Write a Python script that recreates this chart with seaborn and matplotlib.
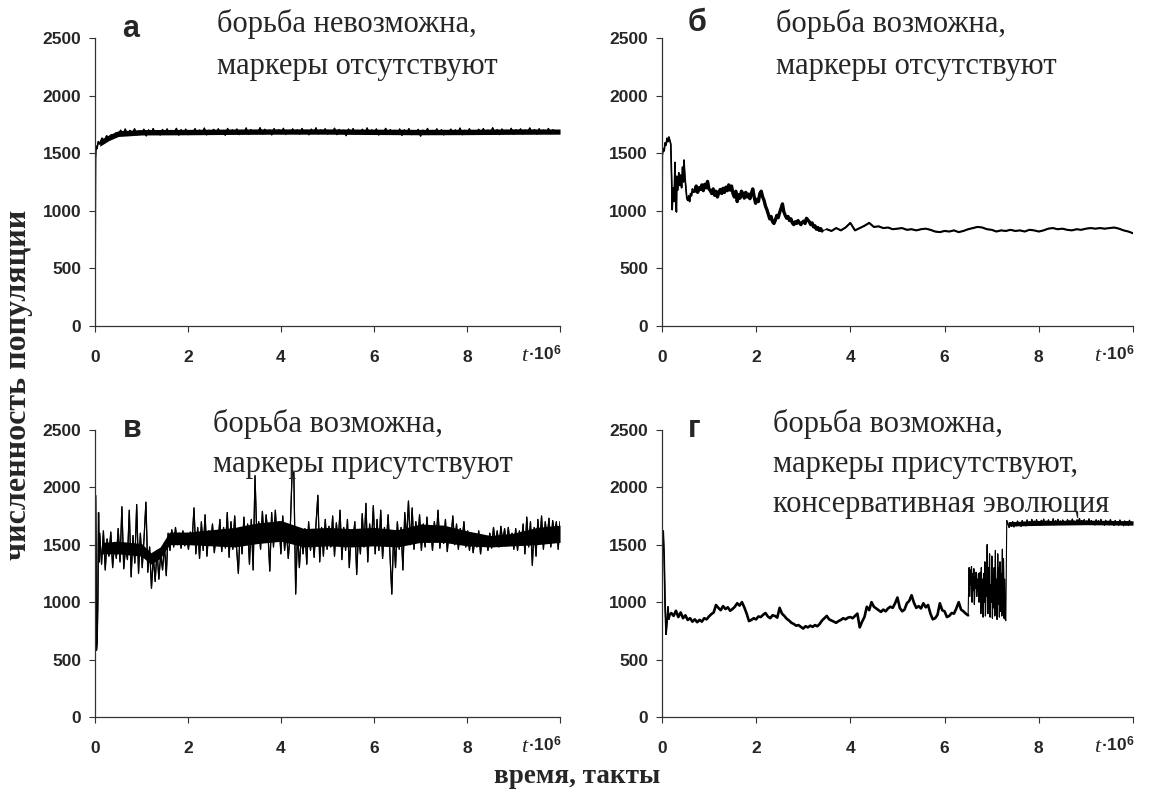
import numpy as np
import pandas as pd
import matplotlib.pyplot as plt
import seaborn as sns

# %% данные (численность популяции, прочитано с графиков)
# а: борьба невозможна, маркеры отсутствуют
a_start_t = [0, 0.01, 0.02, 0.04, 0.07, 0.1, 0.15, 0.2, 0.25, 0.3, 0.35, 0.4, 0.45]
a_start_y = [300, 1450, 1560, 1540, 1600, 1580, 1630, 1610, 1650, 1630, 1660, 1645, 1675]
a_band_range = (0.5, 10.0)
a_band_y = [
    1662, 1700, 1668, 1710, 1655, 1698, 1672, 1712, 1660, 1694, 1676, 1708, 1650, 1703, 1666, 1714, 1670, 1690, 1658, 1706,
    1674, 1711, 1663, 1697, 1680, 1716, 1657, 1704, 1669, 1709, 1661, 1695, 1677, 1713, 1664, 1701, 1671, 1718, 1659, 1699,
    1682, 1707, 1665, 1712, 1673, 1696, 1656, 1715, 1667, 1702, 1679, 1710, 1661, 1698, 1675, 1719, 1663, 1705, 1670, 1693,
    1684, 1721, 1666, 1708, 1672, 1700, 1659, 1713, 1677, 1704, 1668, 1716, 1662, 1697, 1681, 1711, 1670, 1703, 1664, 1715,
    1676, 1699, 1660, 1709, 1673, 1720, 1667, 1701, 1683, 1712, 1665, 1696, 1674, 1717, 1661, 1706, 1678, 1700, 1652, 1710,
    1671, 1714, 1666, 1698, 1680, 1708, 1663, 1719, 1675, 1702, 1669, 1711, 1658, 1697, 1677, 1716, 1664, 1705, 1672, 1699,
    1667, 1710, 1655, 1703, 1673, 1713, 1661, 1694, 1676, 1707, 1648, 1700, 1670, 1715, 1662, 1698, 1679, 1711, 1665, 1704,
    1659, 1696, 1673, 1709, 1664, 1702, 1677, 1718, 1660, 1699, 1671, 1712, 1666, 1697, 1680, 1708, 1663, 1714, 1674, 1701,
    1668, 1721, 1676, 1705, 1661, 1710, 1682, 1698, 1669, 1716, 1664, 1703, 1678, 1711, 1667, 1700, 1685, 1719, 1671, 1706,
    1665, 1712, 1680, 1701, 1673, 1715, 1669, 1704, 1677, 1696, 1684,
]
# плотная часть полосы шума (нижняя и верхняя границы)
a_core_t = [0.1, 0.3, 0.5, 1, 2, 3, 4, 5, 6, 7, 8, 9, 10]
a_core_lo = [1560, 1610, 1645, 1658, 1660, 1663, 1665, 1665, 1662, 1660, 1661, 1664, 1665]
a_core_hi = [1610, 1660, 1695, 1705, 1707, 1710, 1711, 1711, 1709, 1707, 1708, 1711, 1710]

# б: борьба возможна, маркеры отсутствуют
b_start_t = [0, 0.01, 0.03, 0.05, 0.07, 0.09, 0.11, 0.13, 0.15, 0.17, 0.19, 0.21, 0.22, 0.24, 0.26, 0.28, 0.29,
             0.31, 0.32, 0.34, 0.36, 0.38, 0.40, 0.42, 0.44, 0.46, 0.47, 0.49, 0.51, 0.53, 0.55, 0.57, 0.59, 0.61,
             0.63, 0.65, 0.67]
b_start_y = [290, 1480, 1540, 1520, 1590, 1570, 1630, 1600, 1640, 1610, 1580, 1250, 1010, 1200, 1080, 1420, 1150,
             990, 1300, 1180, 1330, 1220, 1310, 1200, 1380, 1250, 1440, 1300, 1200, 1110, 1090, 1130, 1080, 1150,
             1130, 1190, 1160]
b_mid_range = (0.7, 3.4)
b_mid_y = [
    1170, 1215, 1160, 1200, 1185, 1225, 1175, 1230, 1200, 1255,
    1190, 1175, 1150, 1190, 1135, 1170, 1120, 1160, 1185, 1150,
    1195, 1160, 1205, 1175, 1225, 1180, 1215, 1150, 1120, 1170,
    1080, 1140, 1110, 1170, 1150, 1110, 1160, 1120, 1145, 1105,
    1150, 1190, 1120, 1065, 1100, 1080, 1150, 1170, 1120, 1090,
    1040, 1010, 970, 930, 950, 905, 890, 920, 960, 940,
    985, 1020, 1060, 990, 960, 935, 950, 915, 930, 895,
    880, 905, 890, 915, 895, 880, 900, 910, 890, 935,
    920, 905, 880, 895, 860, 870, 840, 855, 830, 845,
    825,
]
b_end_range = (3.5, 10.0)
b_end_y = [
    840, 825, 850, 830, 855, 895, 830, 850, 870, 895, 860, 865, 850, 855, 840, 845, 850, 835, 840, 830,
    840, 845, 835, 820, 815, 825, 820, 830, 815, 825, 840, 850, 860, 855, 840, 835, 820, 830, 825, 835,
    825, 830, 820, 835, 830, 820, 830, 845, 850, 840, 845, 835, 830, 840, 835, 845, 850, 845, 850, 845,
    850, 855, 845, 830, 820, 805,
]

# в: борьба возможна, маркеры присутствуют
c_start_t = [0, 0.01, 0.02, 0.03, 0.045, 0.06, 0.075, 0.09]
c_start_y = [300, 1930, 1500, 580, 650, 1000, 1780, 1350]
c_band_range = (0.1, 10.0)
c_band_y = [
    1600, 1330, 1620, 1280, 1550, 1400, 1610, 1300, 1520, 1380, 1640, 1350, 1830, 1290, 1480, 1370, 1800, 1220, 1580, 1340, 1850, 1250, 1600, 1300, 1560,
    1870, 1260, 1480, 1120, 1400, 1180, 1450, 1200, 1420, 1280, 1500, 1230, 1600, 1450, 1630, 1480, 1650, 1500, 1600, 1470, 1620, 1490, 1580, 1460, 1610,
    1540, 1820, 1420, 1650, 1380, 1700, 1450, 1760, 1400, 1620, 1500, 1680, 1430, 1600, 1520, 1720, 1440, 1650, 1470, 1780, 1390, 1700, 1460, 1750, 1480,
    1250, 1650, 1420, 1740, 1500, 1680, 1330, 1720, 1280, 2100, 1560, 1700, 1460, 1790, 1520, 1760, 1600, 1270, 1780, 1480, 1800, 1530, 1700, 1420, 1750,
    1450, 1620, 1380, 1600, 2100, 2130, 1070, 1620, 1300, 1580, 1420, 1640, 1330, 1700, 1450, 1600, 1390, 1680, 1930, 1350, 1650, 1400, 1720, 1460, 1660,
    1480, 1750, 1400, 1690, 1520, 1800, 1370, 1650, 1450, 1720, 1300, 1600, 1540, 1700, 1240, 1620, 1420, 1770, 1480, 1860, 1350, 1680, 1500, 1840, 1420,
    1720, 1450, 1800, 1380, 1650, 1500, 1760, 1420, 1070, 1600, 1300, 1700, 1460, 1650, 1280, 1780, 1550, 1880, 1500, 1820, 1460, 1700, 1520, 1760, 1450,
    1680, 1480, 1740, 1520, 1660, 1450, 1700, 1550, 1800, 1470, 1650, 1510, 1720, 1440, 1620, 1560, 1750, 1500, 1680, 1460, 1640, 1530, 1700, 1480, 1620,
    1450, 1600, 1430, 1560, 1480, 1620, 1420, 1580, 1500, 1560, 1450, 1600, 1470, 1650, 1500, 1620, 1480, 1660, 1520, 1640, 1490, 1650, 1510, 1600, 1460,
    1640, 1450, 1620, 1500, 1680, 1420, 1740, 1480, 1700, 1320, 1650, 1400, 1720, 1520, 1750, 1460, 1700, 1550, 1730, 1480, 1710, 1600, 1700, 1460, 1700,
]
c_core_t = [0.15, 0.5, 1.0, 1.2, 1.4, 1.6, 2.0, 2.5, 3.0, 3.5, 4.0, 4.5, 5.0, 5.5, 6.0, 6.5, 7.0, 7.5, 8.0, 8.5, 9.0, 9.5, 10.0]
c_core_lo = [1420, 1420, 1400, 1330, 1380, 1500, 1500, 1490, 1480, 1510, 1530, 1480, 1490, 1480, 1490, 1480, 1520, 1520, 1490, 1480, 1490, 1500, 1520]
c_core_hi = [1520, 1530, 1510, 1430, 1480, 1610, 1610, 1630, 1650, 1690, 1710, 1640, 1650, 1640, 1650, 1630, 1680, 1670, 1620, 1580, 1600, 1650, 1670]

# г: борьба возможна, маркеры присутствуют, консервативная эволюция
d_start_t = [0, 0.01, 0.03, 0.05, 0.07, 0.09, 0.11, 0.13, 0.15, 0.18]
d_start_y = [300, 1450, 1620, 1400, 960, 720, 820, 960, 850, 900]
d_mid_range = (0.2, 6.5)
d_mid_y = [
    905, 880, 925, 870, 910, 860, 885, 845, 860, 830, 850, 825, 845, 830, 860, 850, 875, 895, 910, 975,
    950, 930, 965, 940, 955, 925, 940, 960, 990, 970, 1000, 955, 900, 835, 845, 860, 850, 875, 870, 890,
    905, 875, 860, 885, 880, 865, 950, 900, 880, 855, 840, 820, 810, 795, 800, 785, 770, 790, 780, 795,
    785, 800, 790, 810, 840, 860, 880, 850, 840, 830, 820, 835, 845, 860, 850, 865, 870, 860, 880, 900,
    780, 830, 870, 960, 930, 1000, 960, 945, 930, 915, 935, 920, 945, 960, 950, 990, 1040, 950, 920, 935,
    990, 1010, 1060, 995, 950, 965, 945, 990, 955, 975, 900, 850, 860, 890, 990, 930, 920, 870, 880, 905,
    900, 945, 1000, 935, 920, 900, 885,
]
d_jump_range = (6.51, 7.3)
d_jump_y = [
    1100, 1300, 1050, 1280, 1150, 1310, 1000, 1250, 1100, 1290, 980, 1220, 1120, 1260, 1050, 1200, 1100, 1250, 1000, 1180,
    1260, 900, 1300, 950, 1200, 870, 1250, 1000, 1350, 880, 1200, 1050, 1500, 900, 1300, 950, 1420, 870, 1150, 1000,
    1400, 860, 1250, 950, 1300, 880, 1450, 900, 1200, 850, 1420, 980, 1300, 870, 1350, 920, 1250, 880, 1460, 900,
    1380, 860, 1200, 850, 840,
]
d_end_range = (7.32, 10.0)
d_end_y = [
    1710, 1680, 1650, 1690, 1660, 1700, 1655, 1685, 1665, 1705, 1670, 1690, 1660, 1710, 1675, 1695, 1665, 1715, 1680, 1700,
    1670, 1720, 1685, 1705, 1672, 1718, 1680, 1700, 1668, 1712, 1685, 1722, 1678, 1705, 1690, 1716, 1675, 1702, 1688, 1725,
    1680, 1708, 1692, 1720, 1684, 1706, 1676, 1714, 1690, 1700, 1682, 1718, 1686, 1708, 1678, 1722, 1692, 1704, 1684, 1716,
    1688, 1728, 1680, 1710, 1694, 1718, 1685, 1706, 1690, 1724, 1678, 1710, 1686, 1700, 1672, 1716, 1690, 1708, 1676, 1720,
    1682, 1700, 1670, 1712, 1688, 1704, 1674, 1718, 1680, 1696, 1668, 1710, 1684, 1702, 1670, 1714, 1676, 1698, 1665, 1706,
    1672, 1700, 1668, 1712, 1678, 1690, 1685,
]
d_core_t = [7.35, 8.0, 9.0, 10.0]
d_core_lo = [1662, 1668, 1674, 1670]
d_core_hi = [1700, 1710, 1714, 1708]

panel_letters = ['а', 'б', 'в', 'г']
panel_notes = [['борьба невозможна,', 'маркеры отсутствуют'],
               ['борьба возможна,', 'маркеры отсутствуют'],
               ['борьба возможна,', 'маркеры присутствуют'],
               ['борьба возможна,', 'маркеры присутствуют,', 'консервативная эволюция']]
y_ticks = [0, 500, 1000, 1500, 2000, 2500]
x_ticks = [0, 2, 4, 6, 8, 10]
x_ticklabels = ['0', '2', '4', '6', '8', '']


def frame(t, y):
    return pd.DataFrame({'t': list(t), 'n': list(y)})


def seg(rng, vals):
    # равномерные отсчёты времени внутри сегмента
    return frame(np.linspace(rng[0], rng[1], len(vals)), vals)


# для каждой панели: (сегмент, толщина линии), затем плотная полоса
panels = [
    ([(frame(a_start_t, a_start_y), 1.2), (seg(a_band_range, a_band_y), 0.9)],
     (a_core_t, a_core_lo, a_core_hi)),
    ([(frame(b_start_t, b_start_y), 1.2), (seg(b_mid_range, b_mid_y), 2.4), (seg(b_end_range, b_end_y), 1.5)],
     None),
    ([(frame(c_start_t, c_start_y), 1.0), (seg(c_band_range, c_band_y), 0.9)],
     (c_core_t, c_core_lo, c_core_hi)),
    ([(frame(d_start_t, d_start_y), 1.2), (seg(d_mid_range, d_mid_y), 1.9),
      (seg(d_jump_range, d_jump_y), 0.8), (seg(d_end_range, d_end_y), 0.9)],
     (d_core_t, d_core_lo, d_core_hi)),
]

# %% рисунок
sns.set_style('ticks')
plt.rcParams['font.family'] = ['Liberation Sans', 'DejaVu Sans']
plt.rcParams['mathtext.fontset'] = 'custom'
plt.rcParams['mathtext.it'] = 'Liberation Serif:italic'
plt.rcParams['mathtext.bf'] = 'Liberation Sans:bold'
plt.rcParams['mathtext.rm'] = 'Liberation Sans'

fig = plt.figure(figsize=(11.55, 8), dpi=100)
W, H = 1155, 800
positions = [(0.0823, 0.5925, 0.4026, 0.36), (0.573, 0.5925, 0.408, 0.36),
             (0.0823, 0.10375, 0.4026, 0.359), (0.573, 0.10375, 0.408, 0.359)]
letter_px = [(131, 37), (697, 31), (132, 437), (694, 437)]   # центр по x, базовая линия по y
note_px = [(217, 32), (776, 32), (213, 432), (773, 432)]
note_step = [42, 42, 40, 40]

for i, (segments, core) in enumerate(panels):
    ax = fig.add_axes(positions[i])
    if core is not None:
        ax.fill_between(core[0], core[1], core[2], color='black', linewidth=0)
    full = pd.concat([s for s, _ in segments])
    sns.lineplot(data=full, x='t', y='n', ax=ax, color='black', linewidth=0.8,
                 estimator=None, sort=False)
    for s, lw in segments:
        sns.lineplot(data=s, x='t', y='n', ax=ax, color='black', linewidth=lw,
                     estimator=None, sort=False)
    ax.set_xlim(0, 10)
    ax.set_ylim(0, 2500)
    ax.set_yticks(y_ticks)
    ax.set_xticks(x_ticks)
    ax.set_xticklabels(x_ticklabels)
    ax.set_xlabel('')
    ax.set_ylabel('')
    sns.despine(ax=ax)
    for side in ['left', 'bottom']:
        ax.spines[side].set_color('#333333')
        ax.spines[side].set_linewidth(0.9)
    ax.tick_params(axis='both', direction='out', length=4, width=0.8, color='#333333',
                   labelsize=12.5)
    ax.tick_params(axis='x', pad=13)
    ax.tick_params(axis='y', pad=6)
    for lab in ax.get_xticklabels() + ax.get_yticklabels():
        lab.set_fontweight('bold')
    # подпись оси времени у последнего деления
    ax.annotate('t', xy=(10, 0), xycoords=('data', 'axes fraction'), xytext=(-23.5, -25),
                textcoords='offset points', ha='right', va='baseline', fontsize=16,
                family='Liberation Serif', style='italic')
    ax.annotate('·10$^{\\mathbf{6}}$', xy=(10, 0), xycoords=('data', 'axes fraction'),
                xytext=(1, -25), textcoords='offset points', ha='right', va='baseline',
                fontsize=12.5, fontweight='bold')

    fig.text(letter_px[i][0] / W, 1 - letter_px[i][1] / H, panel_letters[i], fontsize=22,
             fontweight='bold', ha='center', va='baseline')
    for k, line in enumerate(panel_notes[i]):
        fig.text(note_px[i][0] / W, 1 - (note_px[i][1] + k * note_step[i]) / H, line,
                 fontsize=22, family='Liberation Serif', ha='left', va='baseline')

fig.text(0.5, 0.029, 'время, такты', fontsize=19.5, fontweight='bold',
         family='Liberation Serif', ha='center', va='center')
fig.text(0.016, 0.519, 'численность популяции', fontsize=23, fontweight='bold',
         family='Liberation Serif', ha='center', va='center', rotation=90)

plt.savefig('out.png', dpi=100)
